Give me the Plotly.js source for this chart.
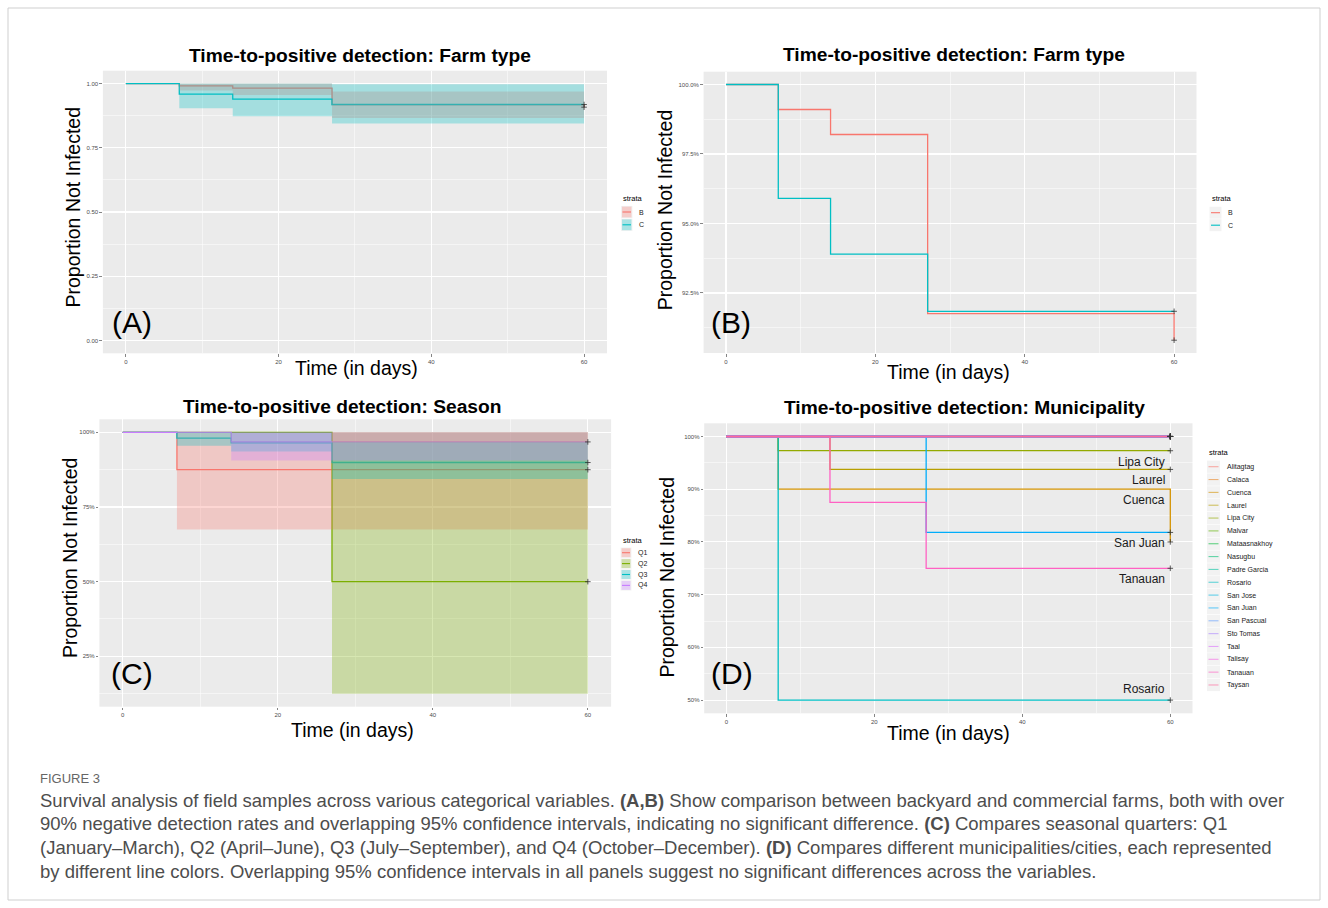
<!DOCTYPE html>
<html>
<head>
<meta charset="utf-8">
<script src="https://cdn.plot.ly/plotly-3.0.1.min.js"></script>
<style>
html,body{margin:0;padding:0;background:#ffffff;}
#chart{width:1328px;height:908px;}
</style>
</head>
<body>
<div id="chart"></div>
<script>
// ================= DATA =================
// Kaplan-Meier step times (days)
const stepDays = [0, 7, 14, 27, 60];

// Panels A & B : farm type (B = backyard, C = commercial)
const farmStrata = ['B', 'C'];
const farmSurvB  = [1, 0.991, 0.982, 0.9176, 0.908];
const farmUpperB = [1, 1, 1, 0.969, 0.969];
const farmLowerB = [1, 0.973, 0.955, 0.866, 0.866];
const farmSurvC  = [1, 0.959, 0.939, 0.9184, 0.9184];
const farmUpperC = [1, 1, 1, 0.997, 0.997];
const farmLowerC = [1, 0.904, 0.873, 0.844, 0.844];

// Panel C : season
const seasonStrata = ['Q1', 'Q2', 'Q3', 'Q4'];
const seasonSurvQ1  = [1, 0.875, 0.875, 0.875, 0.875];
const seasonUpperQ1 = [1, 1, 1, 1, 1];
const seasonLowerQ1 = [1, 0.675, 0.675, 0.675, 0.675];
const seasonSurvQ2  = [1, 1, 1, 0.5, 0.5];
const seasonUpperQ2 = [1, 1, 1, 1, 1];
const seasonLowerQ2 = [1, 1, 1, 0.125, 0.125];
const seasonSurvQ3  = [1, 0.981, 0.965, 0.899, 0.899];
const seasonUpperQ3 = [1, 1, 1, 0.967, 0.967];
const seasonLowerQ3 = [1, 0.955, 0.936, 0.844, 0.844];
const seasonSurvQ4  = [1, 1, 0.968, 0.968, 0.968];
const seasonUpperQ4 = [1, 1, 1, 1, 1];
const seasonLowerQ4 = [1, 1, 0.906, 0.906, 0.906];

// Panel D : municipality
const muniStrata = ['Alitagtag', 'Calaca', 'Cuenca', 'Laurel', 'Lipa City', 'Malvar', 'Mataasnakhoy',
  'Nasugbu', 'Padre Garcia', 'Rosario', 'San Jose', 'San Juan', 'San Pascual', 'Sto Tomas',
  'Taal', 'Talisay', 'Tanauan', 'Taysan'];
const survAlitagtag    = [1, 1, 1, 1, 1];
const survCalaca       = [1, 1, 1, 1, 1];
const survCuenca       = [1, 0.9, 0.9, 0.9, 0.8];
const survLaurel       = [1, 1, 0.9375, 0.9375, 0.9375];
const survLipaCity     = [1, 0.973, 0.973, 0.973, 0.973];
const survMalvar       = [1, 1, 1, 1, 1];
const survMataasnakhoy = [1, 1, 1, 1, 1];
const survNasugbu      = [1, 1, 1, 1, 1];
const survPadreGarcia  = [1, 1, 1, 1, 1];
const survRosario      = [1, 0.5, 0.5, 0.5, 0.5];
const survSanJose      = [1, 1, 1, 1, 1];
const survSanJuan      = [1, 1, 1, 0.818, 0.818];
const survSanPascual   = [1, 1, 1, 1, 1];
const survStoTomas     = [1, 1, 1, 1, 1];
const survTaal         = [1, 1, 1, 1, 1];
const survTalisay      = [1, 1, 1, 1, 1];
const survTanauan      = [1, 1, 0.875, 0.75, 0.75];
const survTaysan       = [1, 1, 1, 1, 1];
const muniLabelled = ['Lipa City', 'Laurel', 'Cuenca', 'San Juan', 'Tanauan', 'Rosario'];

// ================= STYLE =================
const W = 1328, H = 908;
const PX = p => p / W;
const PY = p => 1 - p / H;
const FONT = 'Liberation Sans, Arial, Helvetica, sans-serif';
const farmColors = ['#F8766D', '#00BFC4'];
const seasonColors = ['#F8766D', '#7CAE00', '#00BFC4', '#C77CFF'];
const muniColors = ['#F8766D', '#E88526', '#D39200', '#B79F00', '#93AA00', '#5EB300', '#00BA38',
  '#00BF74', '#00C19F', '#00BFC4', '#00B9E3', '#00ADFA', '#619CFF', '#AE87FF', '#DB72FB',
  '#F564E3', '#FF61C3', '#FF699C'];
function rgba(hex, a) {
  const n = parseInt(hex.slice(1), 16);
  return 'rgba(' + ((n >> 16) & 255) + ',' + ((n >> 8) & 255) + ',' + (n & 255) + ',' + a + ')';
}

const boxes = {
  A: {xa: 'x',  ya: 'y',  l: 102.9, r: 607.0,  t: 70.7,  b: 353.3},
  B: {xa: 'x2', ya: 'y2', l: 703.6, r: 1196.5, t: 71.7,  b: 353.0},
  C: {xa: 'x3', ya: 'y3', l: 99.4,  r: 611.1,  t: 419.3, b: 706.7},
  D: {xa: 'x4', ya: 'y4', l: 704.2, r: 1192.5, t: 423.3, b: 713.3}
};

// ================= TRACES =================
const traces = [];
function stepLine(p, y, color) {
  traces.push({type: 'scatter', mode: 'lines', x: stepDays, y: y, xaxis: p.xa, yaxis: p.ya,
    line: {shape: 'hv', color: color, width: 1.3}, hoverinfo: 'skip', showlegend: false});
}
function band(p, lo, hi, color) {
  traces.push({type: 'scatter', mode: 'lines', x: stepDays, y: hi, xaxis: p.xa, yaxis: p.ya,
    line: {shape: 'hv', width: 0, color: 'rgba(0,0,0,0)'}, hoverinfo: 'skip', showlegend: false});
  traces.push({type: 'scatter', mode: 'lines', x: stepDays, y: lo, xaxis: p.xa, yaxis: p.ya,
    line: {shape: 'hv', width: 0, color: 'rgba(0,0,0,0)'}, fill: 'tonexty', fillcolor: rgba(color, 0.3),
    hoverinfo: 'skip', showlegend: false});
}
function censor(p, ys) {
  traces.push({type: 'scatter', mode: 'markers', x: ys.map(() => stepDays[stepDays.length - 1]), y: ys,
    xaxis: p.xa, yaxis: p.ya, marker: {symbol: 'cross-thin', size: 4, line: {width: 0.8, color: '#333'}},
    hoverinfo: 'skip', showlegend: false});
}
const last = a => a[a.length - 1];

// Panel A
stepLine(boxes.A, farmSurvB, farmColors[0]);
stepLine(boxes.A, farmSurvC, farmColors[1]);
band(boxes.A, farmLowerB, farmUpperB, farmColors[0]);
band(boxes.A, farmLowerC, farmUpperC, farmColors[1]);
censor(boxes.A, [last(farmSurvB), last(farmSurvC)]);

// Panel B
stepLine(boxes.B, farmSurvB, farmColors[0]);
stepLine(boxes.B, farmSurvC, farmColors[1]);
censor(boxes.B, [last(farmSurvB), last(farmSurvC)]);

// Panel C
const seasonSurv = [seasonSurvQ1, seasonSurvQ2, seasonSurvQ3, seasonSurvQ4];
const seasonUpper = [seasonUpperQ1, seasonUpperQ2, seasonUpperQ3, seasonUpperQ4];
const seasonLower = [seasonLowerQ1, seasonLowerQ2, seasonLowerQ3, seasonLowerQ4];
seasonSurv.forEach((s, i) => stepLine(boxes.C, s, seasonColors[i]));
seasonSurv.forEach((s, i) => band(boxes.C, seasonLower[i], seasonUpper[i], seasonColors[i]));
censor(boxes.C, seasonSurv.map(last));

// Panel D
const muniSurv = [survAlitagtag, survCalaca, survCuenca, survLaurel, survLipaCity, survMalvar,
  survMataasnakhoy, survNasugbu, survPadreGarcia, survRosario, survSanJose, survSanJuan,
  survSanPascual, survStoTomas, survTaal, survTalisay, survTanauan, survTaysan];
muniSurv.forEach((s, i) => stepLine(boxes.D, s, muniColors[i]));
censor(boxes.D, muniSurv.map(last));

// ================= AXES =================
function xAxis(p) {
  return {domain: [PX(p.l), PX(p.r)], anchor: p.ya, range: [-3, 63], tickmode: 'linear', tick0: 0, dtick: 20,
    ticks: 'outside', ticklen: 2.5, tickwidth: 0.6, tickcolor: '#333',
    tickfont: {family: FONT, size: 6, color: '#4d4d4d'},
    showgrid: true, gridcolor: '#ffffff', gridwidth: 1.1, zeroline: false, showline: false,
    minor: {tickmode: 'linear', tick0: 0, dtick: 10, showgrid: true, gridcolor: '#ffffff', gridwidth: 0.5},
    fixedrange: true};
}
function yAxis(p, range, tick0, dtick, fmt) {
  return {domain: [PY(p.b), PY(p.t)], anchor: p.xa, range: range, tickmode: 'linear', tick0: tick0, dtick: dtick,
    tickformat: fmt, ticks: 'outside', ticklen: 2.5, tickwidth: 0.6, tickcolor: '#333',
    tickfont: {family: FONT, size: 6, color: '#4d4d4d'},
    showgrid: true, gridcolor: '#ffffff', gridwidth: 1.1, zeroline: false, showline: false,
    minor: {tickmode: 'linear', tick0: tick0, dtick: dtick / 2, showgrid: true, gridcolor: '#ffffff', gridwidth: 0.5},
    fixedrange: true};
}

// ================= TEXT =================
const ann = [];
const shapes = [];
function txt(text, x, y, size, opts) {
  ann.push(Object.assign({text: text, x: PX(x), y: PY(y), xref: 'paper', yref: 'paper', showarrow: false,
    xanchor: 'center', yanchor: 'middle', font: {family: FONT, size: size, color: '#000'}}, opts || {}));
}
// panel titles
txt('<b>Time-to-positive detection: Farm type</b>', 360, 55.5, 19.2);
txt('<b>Time-to-positive detection: Farm type</b>', 954, 55, 19.2);
txt('<b>Time-to-positive detection: Season</b>', 342, 406, 19.2);
txt('<b>Time-to-positive detection: Municipality</b>', 964, 408, 19.2);
// axis titles
[[72, 207.5], [665.3, 210], [69.6, 557.5], [666, 577.5]].forEach(c =>
  txt('Proportion Not Infected', c[0], c[1], 19.5, {textangle: -90}));
[[356, 368], [948.7, 371.5], [352.8, 730], [948.6, 733]].forEach(c =>
  txt('Time (in days)', c[0], c[1], 19.5));
// panel letters
txt('(A)', 132, 322, 30); txt('(B)', 731, 322, 30); txt('(C)', 132, 673, 30); txt('(D)', 732, 673, 30);

// municipality labels anchored on their curves
muniLabelled.forEach(name => {
  const s = muniSurv[muniStrata.indexOf(name)];
  const above = name === 'Rosario';
  ann.push({text: name, x: stepDays[stepDays.length - 1], y: s[3], xref: 'x4', yref: 'y4', showarrow: false,
    xanchor: 'right', yanchor: above ? 'bottom' : 'top', xshift: -3, yshift: above ? 2 : -2,
    font: {family: FONT, size: 12, color: '#1a1a1a'}});
});

// manual legends (ggplot style)
function legend(title, labels, colors, x0, yTitle, y0, step, withFill, keyW, keyAlpha) {
  txt(title, x0, yTitle, 7.5, {xanchor: 'left'});
  labels.forEach((lab, i) => {
    const yc = y0 + i * step;
    shapes.push({type: 'rect', xref: 'paper', yref: 'paper', x0: PX(x0), x1: PX(x0 + keyW),
      y0: PY(yc + step / 2 - 0.3), y1: PY(yc - step / 2 + 0.3), fillcolor: '#F2F2F2', line: {width: 0}, layer: 'above'});
    if (withFill) {
      shapes.push({type: 'rect', xref: 'paper', yref: 'paper', x0: PX(x0 + 1), x1: PX(x0 + keyW - 1),
        y0: PY(yc + step / 2 - 1), y1: PY(yc - step / 2 + 1), fillcolor: rgba(colors[i], 0.3), line: {width: 0}, layer: 'above'});
    }
    shapes.push({type: 'line', xref: 'paper', yref: 'paper', x0: PX(x0 + 1.5), x1: PX(x0 + keyW - 1.5),
      y0: PY(yc), y1: PY(yc), line: {color: rgba(colors[i], keyAlpha), width: 1.1}, layer: 'above'});
    txt(lab, x0 + keyW + 4.5, yc, 7, {xanchor: 'left', font: {family: FONT, size: 7, color: '#1a1a1a'}});
  });
}
legend('strata', farmStrata, farmColors, 621, 198.5, 212, 12.8, true, 11.5, 1);
legend('strata', farmStrata, farmColors, 1209.5, 199, 212.7, 12.5, false, 12, 1);
legend('strata', seasonStrata, seasonColors, 620.5, 540, 552.7, 10.9, true, 11, 1);
legend('strata', muniStrata, muniColors, 1207, 452.7, 466.7, 12.84, false, 13, 0.6);

// caption
txt('FIGURE 3', 38, 778, 13, {xanchor: 'left', font: {family: FONT, size: 13, color: '#666'}});
const capLines = [
  'Survival analysis of field samples across various categorical variables. <b>(A,B)</b> Show comparison between backyard and commercial farms, both with over',
  '90% negative detection rates and overlapping 95% confidence intervals, indicating no significant difference. <b>(C)</b> Compares seasonal quarters: Q1',
  '(January\u2013March), Q2 (April\u2013June), Q3 (July\u2013September), and Q4 (October\u2013December). <b>(D)</b> Compares different municipalities/cities, each represented',
  'by different line colors. Overlapping 95% confidence intervals in all panels suggest no significant differences across the variables.'
];
[800, 823.5, 847.3, 871].forEach((y, i) =>
  txt(capLines[i], 38, y, 18.5, {xanchor: 'left', font: {family: FONT, size: 18.5, color: '#4d4d4d'}}));

// frame
shapes.push({type: 'rect', xref: 'paper', yref: 'paper', x0: PX(8), x1: PX(1320), y0: PY(900), y1: PY(8),
  line: {color: '#cfcfcf', width: 1}, fillcolor: 'rgba(0,0,0,0)', layer: 'below'});

const layout = {
  width: W, height: H, margin: {l: 0, r: 0, t: 0, b: 0, pad: 0},
  paper_bgcolor: '#ffffff', plot_bgcolor: '#EBEBEB', showlegend: false, hovermode: false,
  font: {family: FONT},
  xaxis: xAxis(boxes.A), yaxis: yAxis(boxes.A, [-0.05, 1.05], 0, 0.25, '.2f'),
  xaxis2: xAxis(boxes.B), yaxis2: yAxis(boxes.B, [0.9034, 1.0046], 0.925, 0.025, '.1%'),
  xaxis3: xAxis(boxes.C), yaxis3: yAxis(boxes.C, [0.08125, 1.04375], 0, 0.25, '.0%'),
  xaxis4: xAxis(boxes.D), yaxis4: yAxis(boxes.D, [0.475, 1.025], 0, 0.1, '.0%'),
  annotations: ann, shapes: shapes
};

Plotly.newPlot('chart', traces, layout, {staticPlot: true, displayModeBar: false});
</script>
</body>
</html>
